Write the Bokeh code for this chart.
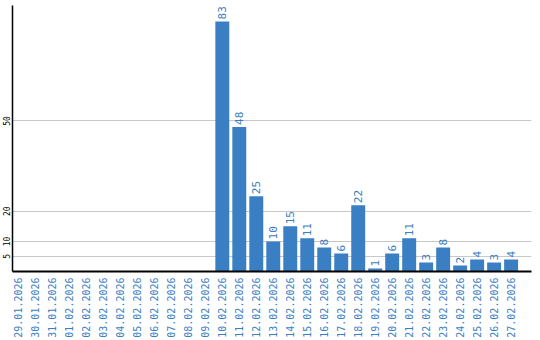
from math import pi
from bokeh.plotting import figure
from bokeh.models import ColumnDataSource, FixedTicker, CustomJSTickFormatter, Range1d
from bokeh.core.properties import value
from bokeh.embed import file_html
from bokeh.resources import INLINE

dates = ["29.01.2026", "30.01.2026", "31.01.2026", "01.02.2026", "02.02.2026",
         "03.02.2026", "04.02.2026", "05.02.2026", "06.02.2026", "07.02.2026",
         "08.02.2026", "09.02.2026", "10.02.2026", "11.02.2026", "12.02.2026",
         "13.02.2026", "14.02.2026", "15.02.2026", "16.02.2026", "17.02.2026",
         "18.02.2026", "19.02.2026", "20.02.2026", "21.02.2026", "22.02.2026",
         "23.02.2026", "24.02.2026", "25.02.2026", "26.02.2026", "27.02.2026"]
counts = [0, 0, 0, 0, 0, 0, 0, 0, 0, 0, 0, 0,
          83, 48, 25, 10, 15, 11, 8, 6, 22, 1, 6, 11, 3, 8, 2, 4, 3, 4]
y_ticks = [5, 10, 20, 50]

BLUE = "#3a7ec3"
FONT = "DejaVu Sans Mono"

xs = list(range(len(dates)))
src = ColumnDataSource(dict(x=xs, y=counts))
lab_x = [x for x, c in zip(xs, counts) if c > 0]
lab_y = [c for c in counts if c > 0]
lab_t = [str(c) for c in lab_y]
lsrc = ColumnDataSource(dict(x=lab_x, y=lab_y, t=lab_t))

p = figure(width=540, height=340, output_backend="svg", toolbar_location=None,
           x_range=Range1d(-0.35, 30.2), y_range=Range1d(0, 88.3),
           min_border_left=0, min_border_right=9, min_border_top=5, min_border_bottom=0)
p.outline_line_color = None
p.background_fill_color = "white"
p.border_fill_color = "white"

p.vbar(x="x", top="y", width=0.82, bottom=0, source=src, fill_color=BLUE, line_color=None)
p.text(x="x", y="y", text="t", source=lsrc, angle=pi/2, text_align="left",
       text_baseline="middle", x_offset=0, y_offset=-2, text_color=BLUE,
       text_font=value(FONT), text_font_size="11px")

p.xgrid.visible = False
p.ygrid.ticker = FixedTicker(ticks=y_ticks)
p.ygrid.grid_line_color = "#c8c8c8"

p.yaxis.ticker = FixedTicker(ticks=y_ticks)
p.yaxis.major_label_orientation = "vertical"
p.yaxis.major_label_text_font = FONT
p.yaxis.major_label_text_font_size = "8px"
p.yaxis.major_label_text_color = "black"
p.yaxis.major_tick_line_color = None
p.yaxis.minor_tick_line_color = None
p.yaxis.major_tick_out = 0
p.yaxis.minor_tick_out = 0
p.yaxis.major_tick_in = 0
p.yaxis.minor_tick_in = 0
p.yaxis.major_label_standoff = 2
p.yaxis.axis_line_color = "black"
p.yaxis.axis_line_width = 1.5

p.xaxis.ticker = FixedTicker(ticks=xs)
p.xaxis.formatter = CustomJSTickFormatter(args=dict(labels=dates),
                                          code="return labels[Math.round(tick)] || '';")
p.xaxis.major_label_orientation = pi/2
p.xaxis.major_label_text_font = FONT
p.xaxis.major_label_text_font_size = "10px"
p.xaxis.major_label_text_color = BLUE
p.xaxis.major_tick_line_color = None
p.xaxis.minor_tick_line_color = None
p.xaxis.major_tick_out = 0
p.xaxis.minor_tick_out = 0
p.xaxis.major_tick_in = 0
p.xaxis.minor_tick_in = 0
p.xaxis.major_label_standoff = 6
p.xaxis.axis_line_color = "black"
p.xaxis.axis_line_width = 2

open("out.html", "w").write(file_html(p, INLINE))
